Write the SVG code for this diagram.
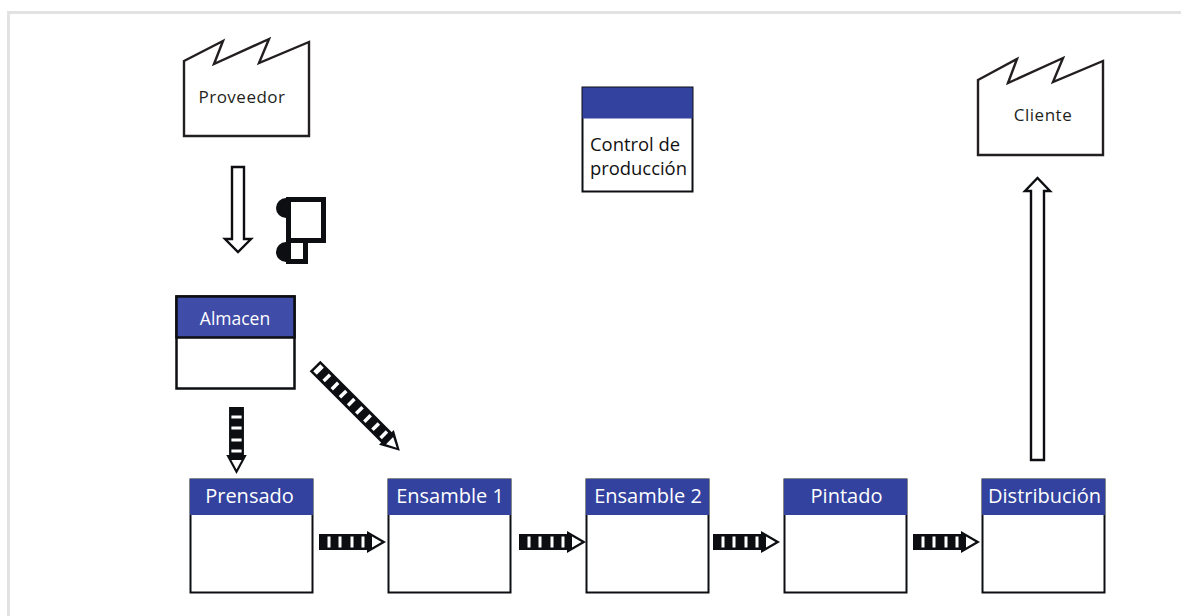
<svg xmlns="http://www.w3.org/2000/svg" width="1181" height="616" viewBox="0 0 1181 616">
<defs>
<style>
.t{font-family:"Open Sans","Noto Sans","Liberation Sans",sans-serif}
.f{fill:#fff;stroke:#231f20;stroke-width:2.4;stroke-linejoin:miter}
.h{fill:#32429e}
.b{fill:#fff;stroke:#0c0e12;stroke-width:2}
.hw{fill:#fff;font-size:20px;text-anchor:middle}
.d{fill:#231f20;font-size:17px;letter-spacing:.5px;text-anchor:middle}
.o{fill:#fff;stroke:#0c0e12;stroke-width:2.400}
.sb{fill:#0c0e12}
.sw{fill:#fff}
</style>
<g id="push">
<rect class="sb" x="0" y="-8" width="50" height="16"/>
<rect class="sw" x="8.500" y="-5.500" width="3" height="11"/>
<rect class="sw" x="19.500" y="-5.500" width="3" height="11"/>
<rect class="sw" x="31.500" y="-5.500" width="3" height="11"/>
<rect class="sw" x="42.500" y="-5.500" width="3" height="11"/>
<path class="sb" d="M48 -11L67 0L48 11Z"/>
<path class="sw" d="M53 -5.500L62.500 0L53 5.500Z"/>
</g>
</defs>
<rect width="1181" height="616" fill="#fff"/>
<path d="M8.500 616V12.500H1181" fill="none" stroke="#e2e2e2" stroke-width="3"/>
<g id="connectors">
<path class="o" d="M232 167H244V239H251L238 252L225 239H232Z"/>
<path class="o" d="M1031 460V191H1025L1037.500 178L1050 191H1044V460Z"/>
<use href="#push" transform="translate(236.500 407) rotate(90) scale(1 .93)"/>
<g transform="translate(315 366) rotate(45)">
<rect class="sb" x="0" y="-7.500" width="104" height="15"/>
<rect class="sw" x="2.500" y="-5" width="5" height="10"/>
<rect class="sw" x="15" y="-4.500" width="3.500" height="9"/>
<rect class="sw" x="26.500" y="-4.500" width="3.500" height="9"/>
<rect class="sw" x="38" y="-4.500" width="3.500" height="9"/>
<rect class="sw" x="49.500" y="-4.500" width="3.500" height="9"/>
<rect class="sw" x="61" y="-4.500" width="3.500" height="9"/>
<rect class="sw" x="72.500" y="-4.500" width="3.500" height="9"/>
<rect class="sw" x="84" y="-4.500" width="3.500" height="9"/>
<rect class="sw" x="95.500" y="-4.500" width="3.500" height="9"/>
<path class="sb" d="M101 -10.500L120 0L101 10.500Z"/>
<path class="sw" d="M105.500 -5L115.500 0L105.500 5Z"/>
</g>
<use href="#push" transform="translate(319 542)"/>
<use href="#push" transform="translate(519 542)"/>
<use href="#push" transform="translate(713 542)"/>
<use href="#push" transform="translate(913 542)"/>
</g>
<g id="proveedor">
<path class="f" d="M184 61L223 41L214 64L269 39L259 63L309 42V136H184Z"/>
<text class="t d" x="242" y="103">Proveedor</text>
</g>
<g id="cliente">
<path class="f" d="M978 80L1017 59L1008 83L1063 58L1053 82L1103 61V155H978Z"/>
<text class="t d" x="1043" y="121">Cliente</text>
</g>
<g id="camion">
<circle cx="286" cy="208" r="10" fill="#0c0e12"/>
<circle cx="286" cy="252" r="10" fill="#0c0e12"/>
<path d="M288.500 199.500H323.500V240.500H288.500Z" fill="#fff" stroke="#0c0e12" stroke-width="5"/>
<path d="M288.500 240.500H305.500V261.500H288.500Z" fill="#fff" stroke="#0c0e12" stroke-width="5"/>
</g>
<g id="control">
<rect class="b" x="582.500" y="87.500" width="110" height="104"/>
<rect class="h" x="582.500" y="87.500" width="110" height="31"/>
<text class="t" x="590" y="150.500" font-size="18.400" fill="#111">Control de</text>
<text class="t" x="590" y="174.500" font-size="18.400" fill="#111">producción</text>
</g>
<g id="almacen">
<rect x="176.500" y="296.500" width="118" height="92" fill="#fff" stroke="#0c0e12" stroke-width="2.500"/>
<rect x="176.500" y="296.500" width="118" height="41" fill="#3f4ca8" stroke="#0c0e12" stroke-width="2.500"/>
<text class="t" x="235" y="325" font-size="17.500" fill="#fff" text-anchor="middle">Almacen</text>
</g>
<g id="prensado">
<rect class="b" x="190.500" y="479.500" width="122" height="113"/>
<rect class="h" x="190" y="479" width="123" height="36"/>
<text class="t hw" x="249.500" y="503">Prensado</text>
</g>
<g id="ensamble1">
<rect class="b" x="388.500" y="479.500" width="122" height="113"/>
<rect class="h" x="388" y="479" width="123" height="36"/>
<text class="t hw" x="450" y="503">Ensamble 1</text>
</g>
<g id="ensamble2">
<rect class="b" x="586.500" y="479.500" width="122" height="113"/>
<rect class="h" x="586" y="479" width="123" height="36"/>
<text class="t hw" x="648" y="503">Ensamble 2</text>
</g>
<g id="pintado">
<rect class="b" x="784.500" y="479.500" width="122" height="113"/>
<rect class="h" x="784" y="479" width="123" height="36"/>
<text class="t hw" x="846.500" y="503">Pintado</text>
</g>
<g id="distribucion">
<rect class="b" x="982.500" y="479.500" width="122" height="113"/>
<rect class="h" x="982" y="479" width="123" height="36"/>
<text class="t hw" x="1044.500" y="503">Distribución</text>
</g>
</svg>
